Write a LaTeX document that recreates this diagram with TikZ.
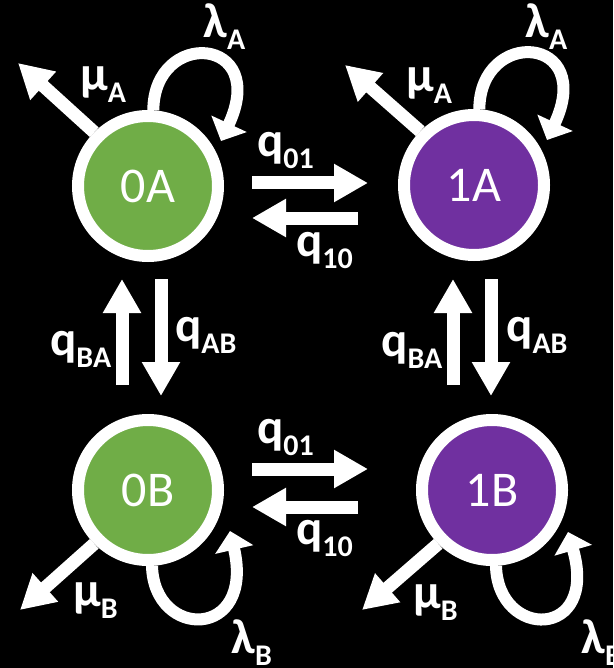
\documentclass[tikz,border=0pt]{standalone}
\usepackage{fontspec}
\setmainfont{Carlito}
\usetikzlibrary{arrows.meta}
\definecolor{green0}{HTML}{70AD47}
\definecolor{purple1}{HTML}{7030A0}
\newcommand{\lowidx}[1]{\raisebox{-12pt}{\fontsize{30}{30}\selectfont #1}}
\tikzset{
  state/.style = {circle, draw=white, line width=12pt, minimum size=140pt,
    inner sep=0pt, text=white, font=\fontsize{50}{50}\selectfont},
  state_0/.style = {state, fill=green0},% etat 0, vert
  state_1/.style = {state, fill=purple1},% etat 1, violet
  rate/.style = {white, line width=13pt, -{Triangle[width=36pt,length=34pt]}},
  selfloop/.style = {white, line width=12pt, -{Triangle[width=38pt,length=19pt]}},
  ratelabel/.style = {text=white, inner sep=0pt, anchor=base west,
    font=\fontsize{49}{49}\selectfont\bfseries}
}

\begin{document}
\begin{tikzpicture}[x=1pt,y=-1pt]
\useasboundingbox (0,0) rectangle (613,668);
\fill[black] (0,0) rectangle (613,668);
% etats
\node[state_0] (s0A) at (148,186) {0A};
\node[state_1] (s1A) at (474,185) {1A};
\node[state_0] (s0B) at (148,490) {0B};
\node[state_1] (s1B) at (492,490) {1B};
% transitions 0 <-> 1
\draw[rate] ([shift={(28,-3)}]s0A.east) -- ([shift={(-30,-2)}]s1A.west);
\draw[rate] ([shift={(-40,33)}]s1A.west) -- ([shift={(28,32)}]s0A.east);
\draw[rate] ([shift={(28,-21)}]s0B.east) -- ([shift={(-48,-21)}]s1B.west);
\draw[rate] ([shift={(-58,17)}]s1B.west) -- ([shift={(28,17)}]s0B.east);
% transitions A <-> B
\draw[rate] ([shift={(-26,-29)}]s0B.north) -- ([shift={(-26,17)}]s0A.south);
\draw[rate] ([shift={(13,17)}]s0A.south) -- ([shift={(13,-18)}]s0B.north);
\draw[rate] ([shift={(-39,-29)}]s1B.north) -- ([shift={(-21,18)}]s1A.south);
\draw[rate] ([shift={(17,18)}]s1A.south) -- ([shift={(-1,-18)}]s1B.north);
% mu, sorties
\draw[rate] (s0A.135) -- ([shift={(-130,-123)}]s0A.center);
\draw[rate] (s1A.135) -- ([shift={(-129,-120)}]s1A.center);
\draw[rate] (s0B.-135) -- ([shift={(-128,120)}]s0B.center);
\draw[rate] (s1B.-135) -- ([shift={(-130,120)}]s1B.center);
% lambda, boucles
\draw[selfloop] (s0A.86) .. controls ([shift={(6,-158)}]s0A.center)
  and ([shift={(122,-150)}]s0A.center) .. ([shift={(73,-45)}]s0A.center);
\draw[selfloop] (s1A.86) .. controls ([shift={(6,-158)}]s1A.center)
  and ([shift={(122,-150)}]s1A.center) .. ([shift={(73,-45)}]s1A.center);
\draw[selfloop] (s0B.-87) .. controls ([shift={(6,150)}]s0B.center)
  and ([shift={(107,150)}]s0B.center) .. ([shift={(82,41)}]s0B.center);
\draw[selfloop] (s1B.-87) .. controls ([shift={(6,150)}]s1B.center)
  and ([shift={(107,150)}]s1B.center) .. ([shift={(76,42)}]s1B.center);
% etiquettes
\node[ratelabel] (l01top) at (257,157) {q\lowidx{01}};
\node[ratelabel] (l10top) at (296,256) {q\lowidx{10}};
\node[ratelabel] (l01bot) at (257,443) {q\lowidx{01}};
\node[ratelabel] (l10bot) at (296,544) {q\lowidx{10}};
\node[ratelabel] (lBA0) at (50,355) {q\lowidx{BA}};
\node[ratelabel] (lAB0) at (175,341) {q\lowidx{AB}};
\node[ratelabel] (lBA1) at (381,356) {q\lowidx{BA}};
\node[ratelabel] (lAB1) at (506,341) {q\lowidx{AB}};
\node[ratelabel] (mu0A) at (80,91) {μ\lowidx{A}};
\node[ratelabel] (la0A) at (203,38) {λ\lowidx{A}};
\node[ratelabel] (mu1A) at (406,92) {μ\lowidx{A}};
\node[ratelabel] (la1A) at (525,38) {λ\lowidx{A}};
\node[ratelabel] (mu0B) at (73,606) {μ\lowidx{B}};
\node[ratelabel] (la0B) at (231,653) {λ\lowidx{B}};
\node[ratelabel] (mu1B) at (413,608) {μ\lowidx{B}};
\node[ratelabel] (la1B) at (581,653) {λ\lowidx{B}};
\end{tikzpicture}
\end{document}
